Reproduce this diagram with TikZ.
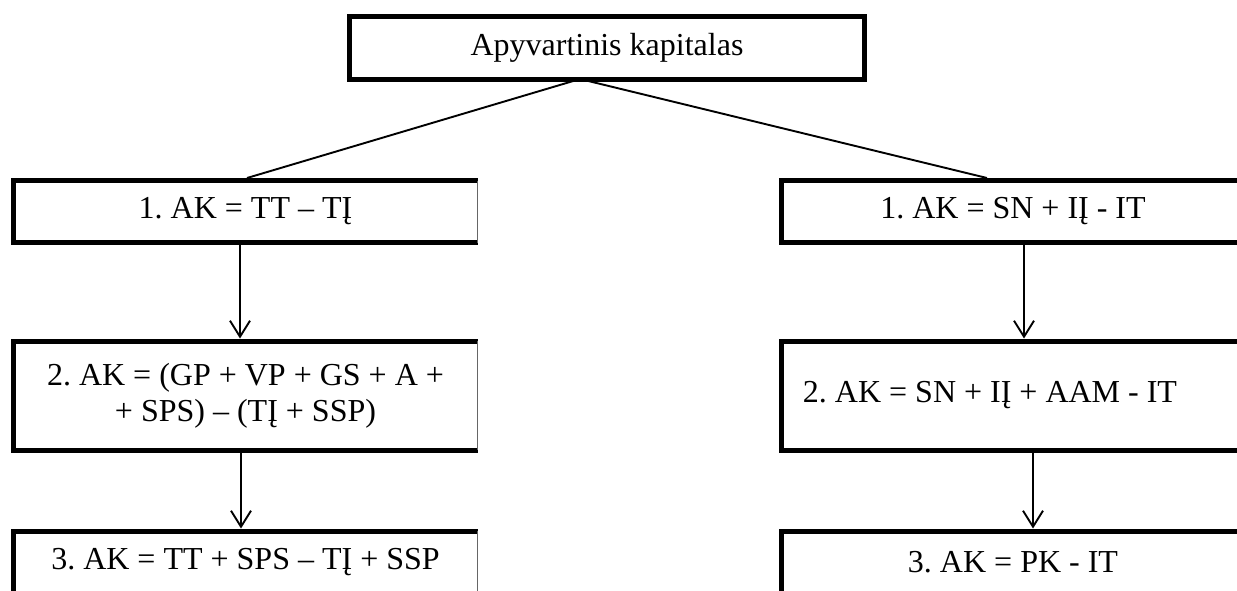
\documentclass[tikz,border=0pt]{standalone}
\usepackage{fontspec}
\setmainfont{Liberation Serif}
\usetikzlibrary{arrows.meta,calc}

\begin{document}
\frenchspacing
\begin{tikzpicture}[x=1pt,y=-1pt,
  every node/.style={font=\fontsize{32}{36}\selectfont},
  framebox/.style={draw=black,line width=5pt,minimum width=464pt,minimum height=62pt,inner sep=0pt},
  openframe/.style={minimum width=464pt,inner sep=0pt,outer sep=2.5pt},
  thickedge/.style={line width=5pt,line join=miter},
  thinedge/.style={line width=1pt,draw=black!60},
  link/.style={line width=1.9pt},
  arr/.style={line width=1.9pt,-{Straight Barb[length=16pt,width=20pt,line width=1.9pt]}}]
  \useasboundingbox (0,0) rectangle (1237,590);
  \clip (0,0) rectangle (1237,590);

  % top heading
  \node[framebox,minimum width=514.5pt,minimum height=62.5pt] (t) at (607,48) {Apyvartinis kapitalas};
  \coordinate (tj) at (580,79);

  % left column: thick top, left and bottom edges, hairline right edge
  \node[openframe,minimum height=62pt] (l1) at (245.5,211.5) {1. AK = TT – TĮ};
  \node[openframe,minimum height=109pt,align=center] (l2) at (245.5,395.5) {2. AK = (GP + VP + GS + A +\\+ SPS) – (TĮ + SSP)};
  \node[openframe,minimum height=62pt] (l3) at (245.5,562) {3. AK = TT + SPS – TĮ + SSP};
  \foreach \b in {l1,l2,l3}{
    \draw[thickedge] ([shift={(-2.5,2.5)}]\b.north east) -- ([shift={(2.5,2.5)}]\b.north west)
      -- ([shift={(2.5,-2.5)}]\b.south west) -- ([shift={(-2.5,-2.5)}]\b.south east);
    \draw[thinedge] ([shift={(-2.5,2.5)}]\b.north east) -- ([shift={(-2.5,-2.5)}]\b.south east);
  }

  % right column
  \node[framebox] (r1) at (1013,211.5) {1. AK = SN + IĮ - IT};
  \node[framebox,minimum height=109pt] (r2) at (1013,395.5) {};
  \node (r2t) at ([xshift=-23pt]r2.center) {2. AK = SN + IĮ + AAM - IT};
  \node[framebox] (r3) at (1013,562) {3. AK = PK - IT};

  % connectors
  \draw[link] (tj) -- ($(l1.north)+(1.5,0)$);
  \draw[link] (tj) -- ($(r1.north)+(-26,0)$);
  \draw[arr] ([xshift=-5.5pt]l1.south) -- ([xshift=-5.5pt]l2.north);
  \draw[arr] ([xshift=-4.5pt]l2.south) -- ([xshift=-4.5pt]l3.north);
  \draw[arr] ([xshift=11pt]r1.south) -- ([xshift=11pt]r2.north);
  \draw[arr] ([xshift=20pt]r2.south) -- ([xshift=20pt]r3.north);
\end{tikzpicture}
\end{document}
